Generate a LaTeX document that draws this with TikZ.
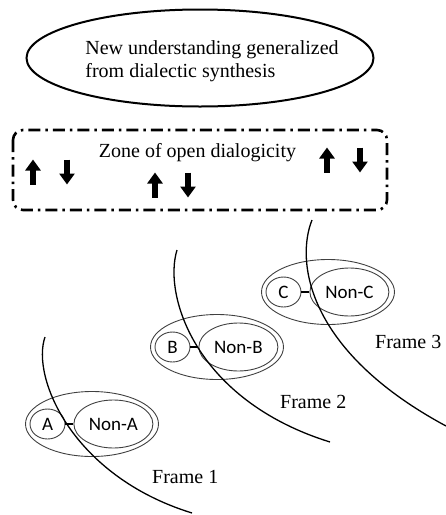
\documentclass[tikz,border=0pt]{standalone}
\usepackage{fontspec}
\setmainfont{Liberation Serif}
\newfontfamily\polefont{Carlito}
\usetikzlibrary{arrows.meta,positioning,shapes.geometric}
\definecolor{ringgray}{HTML}{404040}

\begin{document}
\begin{tikzpicture}[x=1pt,y=-1pt,
  bigtext/.style={font=\fontsize{20}{22.5}\selectfont,inner sep=0pt},
  synthbox/.style={draw,ellipse,line width=2pt,minimum width=347pt,minimum height=97pt},
  zonebox/.style={draw,line width=2.6pt,rounded corners=10pt,dash pattern=on 12pt off 5pt on 2.5pt off 5pt},
  flux/.style={-{Triangle[length=11pt,width=15pt]},line width=6.2pt},
  frameset/.style={draw=ringgray,ellipse,line width=0.9pt,minimum width=133pt,minimum height=65pt},
  pole/.style={draw=ringgray,ellipse,line width=0.9pt,minimum width=35pt,minimum height=30pt,inner sep=0pt,
    font=\polefont\fontsize{19}{22}\selectfont},
  antipole/.style={pole,minimum width=79pt,minimum height=48pt},
  link/.style={line width=1.8pt},
  frameline/.style={line width=1.3pt}]
\useasboundingbox (0,0) rectangle (446,515);

\node[synthbox](synth) at (200,58) {};
\node[bigtext,align=left](synthtxt) at (212,61) {New understanding generalized\\from dialectic synthesis};

\draw[zonebox] (13,130) rectangle (387,210);
\node[bigtext,anchor=base](zone) at (197.5,157) {Zone of open dialogicity};
\foreach \ux/\dx/\my in {33/67/172,155/188/185,327/360/160}{
  \draw[flux] (\ux,\my+12.5) -- (\ux,\my-12.5);
  \draw[flux] (\dx,\my-12.5) -- (\dx,\my+12.5);
}

\foreach \n/\cx/\cy/\lab in {1/92/424/A,2/217/347/B,3/328/292/C}{
  \node[frameset](set\n) at (\cx,\cy) {};
  \node[pole](pole\n) at ([xshift=-44.5pt]set\n.center) {\lab};
  \node[antipole,right=8pt of pole\n](anti\n) {Non-\lab};
  \draw[link] (pole\n) -- (anti\n);
}

\draw[frameline] (45,337) .. controls (31,377) and (72,476) .. (192,513);
\draw[frameline] (177,250) .. controls (163,295) and (195,400) .. (330,442);
\draw[frameline] (312,220) .. controls (296,260) and (305,350) .. (446,426);

\node[bigtext,anchor=base west](frame1) at (152,483) {Frame 1};
\node[bigtext,anchor=base west](frame2) at (280,408) {Frame 2};
\node[bigtext,anchor=base west](frame3) at (375,348) {Frame 3};
\end{tikzpicture}
\end{document}
